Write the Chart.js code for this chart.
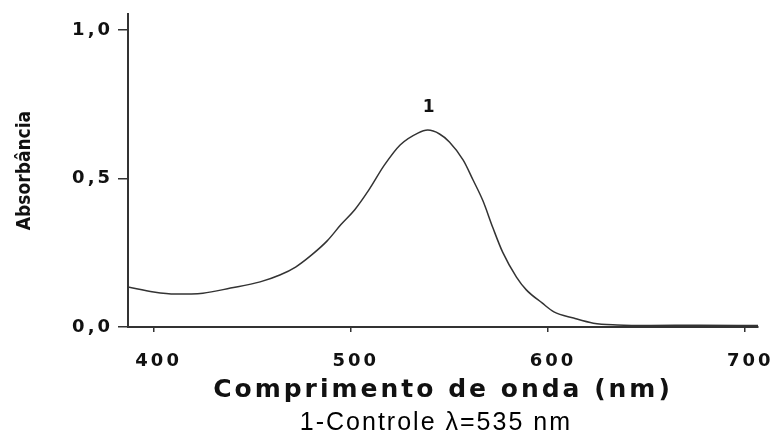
<!DOCTYPE html>
<html>
<head>
<meta charset="utf-8">
<script src="https://cdn.jsdelivr.net/npm/chart.js@4/dist/chart.umd.min.js"></script>
<style>
  body { margin: 0; background: #fff; }
  #box { width: 777px; height: 432px; }
</style>
</head>
<body>
<div id="box"><canvas id="myChart"></canvas></div>
<script>
// donnees
const wavelengths = [387, 400, 411, 425, 439, 454, 464, 472, 480, 488, 495, 502, 509, 517, 525, 534, 539, 545, 550, 557, 562, 567, 572, 577, 584, 589, 597, 603, 613, 623, 635, 652, 677, 706.5];
const absorbance = [0.135, 0.118, 0.111, 0.114, 0.131, 0.152, 0.175, 0.202, 0.242, 0.290, 0.345, 0.395, 0.460, 0.545, 0.613, 0.653, 0.663, 0.650, 0.623, 0.562, 0.495, 0.425, 0.335, 0.252, 0.168, 0.125, 0.081, 0.051, 0.030, 0.013, 0.007, 0.005, 0.006, 0.005];
const xTicks = [400, 500, 600, 700];
const yTicks = [0, 0.5, 1.0];
const peakLabel = "1";
const xTitle = "Comprimento de onda (nm)";
const yTitle = "Absorbância";
const caption = "1-Controle λ=535 nm";

const boldFont = "'DejaVu Sans', Verdana, sans-serif";
const inkColor = "#111";

// texte un peu etire comme sur l'original
const spacingPlugin = {
  id: "spacing",
  beforeDraw(chart) {
    chart.ctx.letterSpacing = "3px";
  },
  afterDatasetsDraw(chart) {
    // etiquette "1" au dessus du maximum
    const ctx = chart.ctx;
    let iMax = 0;
    absorbance.forEach((v, i) => { if (v > absorbance[iMax]) iMax = i; });
    const x = chart.scales.x.getPixelForValue(wavelengths[iMax]);
    const y = chart.scales.y.getPixelForValue(absorbance[iMax]);
    ctx.save();
    ctx.letterSpacing = "0px";
    ctx.font = "bold 17px " + boldFont;
    ctx.fillStyle = inkColor;
    ctx.textAlign = "center";
    ctx.textBaseline = "bottom";
    ctx.fillText(peakLabel, x + 1, y - 14);
    ctx.restore();
    // le titre Y (dessine apres, grid.z = 1) sans espacement
    ctx.letterSpacing = "0px";
  },
  afterDraw(chart) {
    // legende sous le graphique
    const ctx = chart.ctx;
    ctx.save();
    ctx.letterSpacing = "2px";
    ctx.font = "25px 'Liberation Sans', Arial, sans-serif";
    ctx.fillStyle = "#000";
    ctx.textAlign = "center";
    ctx.textBaseline = "alphabetic";
    ctx.fillText(caption, chart.width * 0.561, chart.height - 2);
    ctx.restore();
  },
};

const data = {
  datasets: [
    {
      label: "Controle",
      data: wavelengths.map((w, i) => ({ x: w, y: absorbance[i] })),
      borderColor: "#333",
      borderWidth: 1.5,
      pointRadius: 0,
      fill: false,
      cubicInterpolationMode: "monotone",
    },
  ],
};

const config = {
  type: "line",
  data: data,
  plugins: [spacingPlugin],
  options: {
    responsive: true,
    maintainAspectRatio: false,
    animation: false,
    layout: { padding: { left: 0, right: 19, top: 14, bottom: 24 } },
    plugins: {
      legend: { display: false },
      tooltip: { enabled: false },
    },
    scales: {
      x: {
        type: "linear",
        min: 387,
        max: 706.5,
        afterBuildTicks: (scale) => { scale.ticks = xTicks.map((v) => ({ value: v })); },
        afterFit: (scale) => {
          scale.height = 81;
          scale.paddingLeft = 0;
          scale.paddingRight = 0;
        },
        border: { display: true, color: "#333", width: 2 },
        grid: { drawOnChartArea: false, drawTicks: true, tickLength: 5, color: "#333", lineWidth: 1.5 },
        ticks: { color: inkColor, padding: 19, labelOffset: 5, maxRotation: 0, font: { family: boldFont, size: 18, weight: "bold" } },
        title: {
          display: true,
          text: xTitle,
          color: inkColor,
          font: { family: boldFont, size: 25, weight: "bold", lineHeight: 1 },
          padding: { top: 0, bottom: 5 },
        },
      },
      y: {
        min: 0,
        max: 1.054,
        afterBuildTicks: (scale) => { scale.ticks = yTicks.map((v) => ({ value: v })); },
        afterFit: (scale) => {
          scale.width = 128;
          scale.paddingTop = 0;
          scale.paddingBottom = 0;
        },
        border: { display: true, color: "#333", width: 2, z: 1 },
        grid: { drawOnChartArea: false, drawTicks: true, tickLength: 10, color: "#333", lineWidth: 1.5, z: 1 },
        ticks: {
          color: inkColor,
          padding: 5,
          font: { family: boldFont, size: 18, weight: "bold" },
          callback: (v) => v.toFixed(1).replace(".", ","),
        },
        title: {
          display: true,
          text: yTitle,
          color: inkColor,
          font: { family: "'Liberation Sans Narrow', 'DejaVu Sans Condensed', sans-serif", size: 19, weight: "bold", lineHeight: 1 },
          padding: { top: 16, bottom: 0 },
        },
      },
    },
  },
};

let context = document.getElementById("myChart").getContext("2d");
let chart = new Chart(context, config);
</script>
</body>
</html>
